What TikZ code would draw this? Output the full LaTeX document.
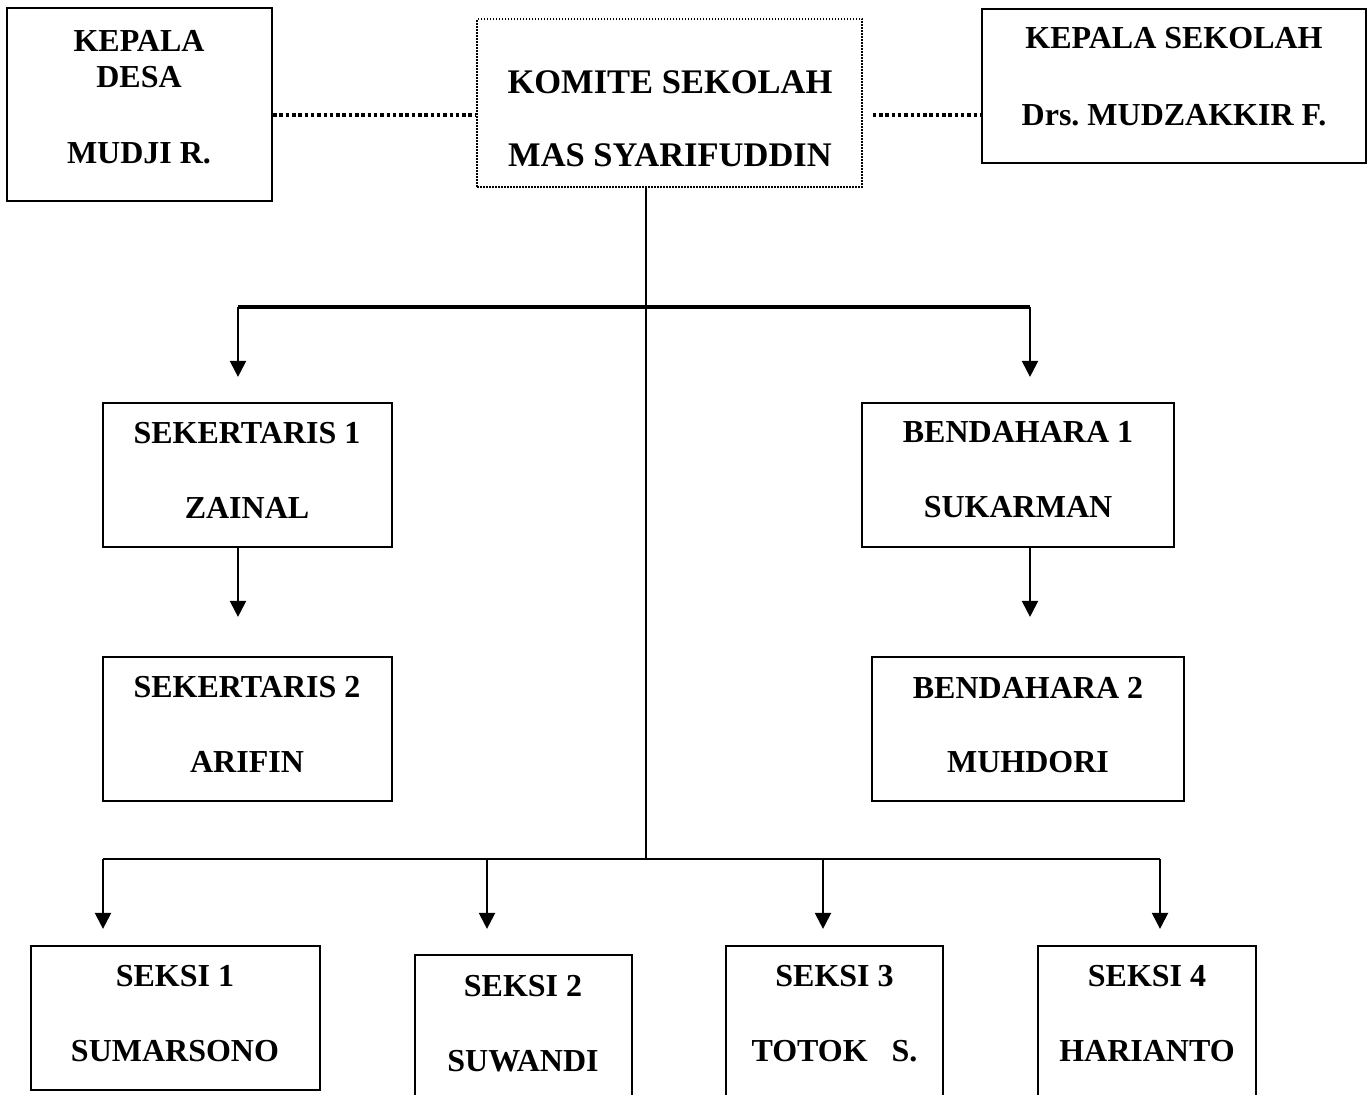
\documentclass[tikz,border=0pt]{standalone}
\usepackage{fontspec}
\setmainfont{Liberation Serif}
\usetikzlibrary{arrows.meta}
\begin{document}
\begin{tikzpicture}[x=1pt,y=-1pt,
  box/.style={draw, line width=2.2pt, rectangle, inner sep=0pt},
  dotbox/.style={draw, line width=1.5pt, dash pattern=on 1.5pt off 1.5pt, rectangle, inner sep=0pt},
  lbl/.style={font=\fontsize{32}{38}\selectfont\bfseries, inner sep=0pt, anchor=base},
  biglbl/.style={font=\fontsize{34.5}{40}\selectfont\bfseries, inner sep=0pt, anchor=base},
  conn/.style={line width=2.2pt},
  thickconn/.style={line width=3.8pt},
  dotline/.style={line width=3.5pt, dash pattern=on 3.5pt off 2.8pt},
  arr/.style={line width=2.2pt, -{Triangle[width=16pt,length=16pt]}}]
\path[use as bounding box, clip] (0,0) rectangle (1372,1094);
\fill[white] (0,0) rectangle (1372,1094);

% boxes
\node[box, minimum width=265pt, minimum height=193pt] (desa) at (139.5,104.5) {};
\node[dotbox, minimum width=385pt, minimum height=168pt] (komite) at (669.5,103) {};
\node[box, minimum width=384pt, minimum height=154pt] (kepsek) at (1174,86) {};
\node[box, minimum width=289pt, minimum height=144pt] (sek1) at (247.5,475) {};
\node[box, minimum width=289pt, minimum height=144pt] (sek2) at (247.5,729) {};
\node[box, minimum width=312pt, minimum height=144pt] (ben1) at (1018,475) {};
\node[box, minimum width=312pt, minimum height=144pt] (ben2) at (1028,729) {};
\node[box, minimum width=289pt, minimum height=144pt] (seksi1) at (175.5,1018) {};
\node[box, minimum width=217pt, minimum height=150pt] (seksi2) at (523.5,1030) {};
\node[box, minimum width=217pt, minimum height=154pt] (seksi3) at (834.5,1023) {};
\node[box, minimum width=218pt, minimum height=154pt] (seksi4) at (1147,1023) {};

% texts
\node[lbl] (t1a) at (139,51.6) {KEPALA};
\node[lbl] (t1b) at (139,87.6) {DESA};
\node[lbl] (t1c) at (139,163.6) {MUDJI R.};
\node[biglbl] (t2a) at (670,93.4) {KOMITE SEKOLAH};
\node[biglbl] (t2b) at (670,166.4) {MAS SYARIFUDDIN};
\node[lbl] (t3a) at (1174,48.6) {KEPALA SEKOLAH};
\node[lbl] (t3b) at (1174,125.6) {Drs.\ MUDZAKKIR F.};
\node[lbl] (t4a) at (247,443.6) {SEKERTARIS 1};
\node[lbl] (t4b) at (247,518.6) {ZAINAL};
\node[lbl] (t5a) at (247,697.6) {SEKERTARIS 2};
\node[lbl] (t5b) at (247,772.6) {ARIFIN};
\node[lbl] (t6a) at (1018,442.6) {BENDAHARA 1};
\node[lbl] (t6b) at (1018,517.6) {SUKARMAN};
\node[lbl] (t7a) at (1028,698.6) {BENDAHARA 2};
\node[lbl] (t7b) at (1028,772.6) {MUHDORI};
\node[lbl] (t8a) at (175,986.6) {SEKSI 1};
\node[lbl] (t8b) at (175,1061.6) {SUMARSONO};
\node[lbl] (t9a) at (523,996.6) {SEKSI 2};
\node[lbl] (t9b) at (523,1071.6) {SUWANDI};
\node[lbl] (t10a) at (834.5,986.6) {SEKSI 3};
\node[lbl] (t10b) at (834.5,1061.6) {TOTOK\ \ \ S.};
\node[lbl] (t11a) at (1147,986.6) {SEKSI 4};
\node[lbl] (t11b) at (1147,1061.6) {HARIANTO};

% helper coordinates
\coordinate (lvl) at (0,115);
\coordinate (jt) at (646,307);
\coordinate (bl) at (238,307);
\coordinate (br) at (1030,307);
\coordinate (jb) at (646,859);
\coordinate (b1) at (103,859);
\coordinate (b2) at (487,859);
\coordinate (b3) at (823,859);
\coordinate (b4) at (1160,859);

% dotted links
\draw[dotline] (desa.east |- lvl) -- (komite.west |- lvl);
\draw[dotline] ([xshift=10pt]komite.east |- lvl) -- (kepsek.west |- lvl);

% trunk and buses
\draw[conn] (komite.south -| jt) -- (jb);
\draw[thickconn] (bl) -- (br);
\draw[conn] (b1) -- (b4);

% arrows
\draw[arr, shorten >=25pt] (bl) -- (bl |- sek1.north);
\draw[arr, shorten >=25pt] (br) -- (br |- ben1.north);
\draw[arr, shorten >=39pt] (sek1.south -| bl) -- (sek2.north -| bl);
\draw[arr, shorten >=39pt] (ben1.south -| br) -- (ben2.north -| br);
\draw[arr, shorten >=16pt] (b1) -- (b1 |- seksi1.north);
\draw[arr, shorten >=25pt] (b2) -- (b2 |- seksi2.north);
\draw[arr, shorten >=16pt] (b3) -- (b3 |- seksi3.north);
\draw[arr, shorten >=16pt] (b4) -- (b4 |- seksi4.north);
\end{tikzpicture}
\end{document}
